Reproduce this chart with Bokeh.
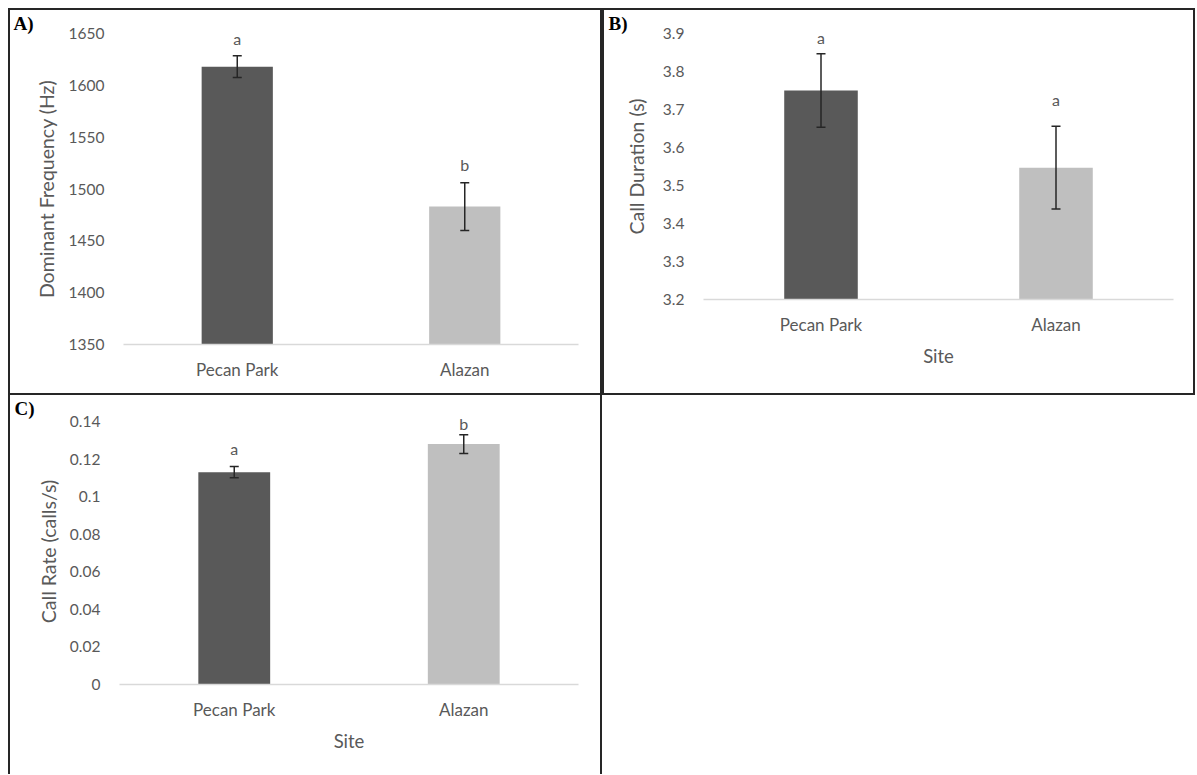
from bokeh.plotting import figure
from bokeh.models import (Range1d, FixedTicker, CustomJSTickFormatter, Whisker,
                          ColumnDataSource, TeeHead, Title, Spacer)
from bokeh.layouts import column, row
from bokeh.embed import file_html
from bokeh.resources import INLINE
from bokeh.core.properties import value

# ---------------- data ----------------
sites = ["Pecan Park", "Alazan"]
bar_colors = ["#595959", "#bfbfbf"]

freq_mean = [1618, 1483]
freq_se = [10.5, 23]
freq_letters = ["a", "b"]
freq_ticks = [1350, 1400, 1450, 1500, 1550, 1600, 1650]

dur_mean = [3.75, 3.547]
dur_se = [0.097, 0.109]
dur_letters = ["a", "a"]
dur_ticks = [3.2, 3.3, 3.4, 3.5, 3.6, 3.7, 3.8, 3.9]

rate_mean = [0.113, 0.128]
rate_se = [0.003, 0.005]
rate_letters = ["a", "b"]
rate_ticks = [0, 0.02, 0.04, 0.06, 0.08, 0.1, 0.12, 0.14]

TEXT = "#595959"
FONT = "Lato"
BORDER = "2px solid #262626"


def panel(tag, means, ses, letters, ticks, ylabel, xlabel, width, height,
          mbl, mbr, mbt, mbb, headroom_px, letter_gap, tag_dx,
          ylab_standoff, borders):
    frame_h = height - mbt - mbb
    axis_px = frame_h - headroom_px
    span = ticks[-1] - ticks[0]
    y_end = ticks[-1] + span * headroom_px / axis_px
    p = figure(x_range=sites, y_range=Range1d(ticks[0], y_end),
               width=width, height=height, output_backend="svg",
               toolbar_location=None, min_border_left=mbl, min_border_right=mbr,
               min_border_top=mbt, min_border_bottom=mbb, frame_align=False,
               background_fill_color="white", border_fill_color="white")
    p.x_range.range_padding = 0
    p.outline_line_color = None
    p.grid.visible = False

    upper = [m + s for m, s in zip(means, ses)]
    lower = [m - s for m, s in zip(means, ses)]
    src = ColumnDataSource(dict(site=sites, mean=means, upper=upper, lower=lower,
                                color=bar_colors))
    p.vbar(x="site", top="mean", bottom=ticks[0], width=0.313, color="color",
           line_color=None, source=src)
    w = Whisker(base="site", upper="upper", lower="lower", source=src, level="overlay",
                line_color="#262626", line_width=1.5,
                upper_head=TeeHead(size=9, line_color="#262626", line_width=1.5),
                lower_head=TeeHead(size=9, line_color="#262626", line_width=1.5))
    p.add_layout(w)
    # significance letters just above each error bar
    for s, u, t, g in zip(sites, upper, letters, letter_gap):
        p.text(x=[s], y=[u], text=[t], y_offset=-g,
               text_align="center", text_baseline="middle", text_color=TEXT,
               text_font=value(FONT), text_font_size="16px")

    # y axis
    p.yaxis.ticker = FixedTicker(ticks=ticks)
    p.yaxis.formatter = CustomJSTickFormatter(code="return String(Math.round(tick*1000)/1000)")
    p.yaxis.axis_line_color = None
    p.yaxis.major_tick_line_color = None
    p.yaxis.minor_tick_line_color = None
    p.yaxis.major_label_standoff = 13
    p.yaxis.major_label_text_font = FONT
    p.yaxis.major_label_text_font_size = "15.5px"
    p.yaxis.major_label_text_color = TEXT
    p.yaxis.axis_label = ylabel
    p.yaxis.axis_label_text_font = FONT
    p.yaxis.axis_label_text_font_style = "normal"
    p.yaxis.axis_label_text_font_size = "19.5px"
    p.yaxis.axis_label_text_color = TEXT
    p.yaxis.axis_label_standoff = ylab_standoff

    # x axis
    p.xaxis.axis_line_color = "#d9d9d9"
    p.xaxis.axis_line_width = 1.5
    p.xaxis.major_tick_line_color = None
    p.xaxis.minor_tick_line_color = None
    p.xaxis.major_label_standoff = 8
    p.xaxis.major_label_text_font = FONT
    p.xaxis.major_label_text_font_size = "17px"
    p.xaxis.major_label_text_color = TEXT
    if xlabel:
        p.xaxis.axis_label = xlabel
        p.xaxis.axis_label_text_font = FONT
        p.xaxis.axis_label_text_font_style = "normal"
        p.xaxis.axis_label_text_font_size = "18.5px"
        p.xaxis.axis_label_text_color = TEXT
        p.xaxis.axis_label_standoff = 7

    # panel tag as a left-aligned title shifted over the axis area
    p.add_layout(Title(text=tag, align="left", offset=tag_dx, standoff=0,
                       text_font="Liberation Serif", text_font_style="bold",
                       text_font_size="19px", text_color="#000000",
                       vertical_align="bottom"), "above")
    p.styles = borders
    return p


full = {"border": BORDER}
sides = {"border-left": BORDER, "border-right": BORDER}

pA = panel("A)", freq_mean, freq_se, freq_letters, freq_ticks,
           "Dominant Frequency (Hz)", None, 594, 387,
           113, 26, 23, 53, 0, [17, 18], -110, 8, full)
pB = panel("B)", dur_mean, dur_se, dur_letters, dur_ticks,
           "Call Duration (s)", "Site", 593, 387,
           99, 24, 23, 98, 0, [16, 27], -95, 12, full)
pC = panel("C)", rate_mean, rate_se, rate_letters, rate_ticks,
           "Call Rate (calls/s)", "Site", 594, 379,
           109, 26, 23, 90, 3, [18, 11], -105, 7, sides)

layout = column(Spacer(width=10, height=8),
                row(Spacer(width=8, height=10), pA, pB),
                row(Spacer(width=8, height=10), pC))
open("out.html", "w").write(file_html(layout, INLINE))
